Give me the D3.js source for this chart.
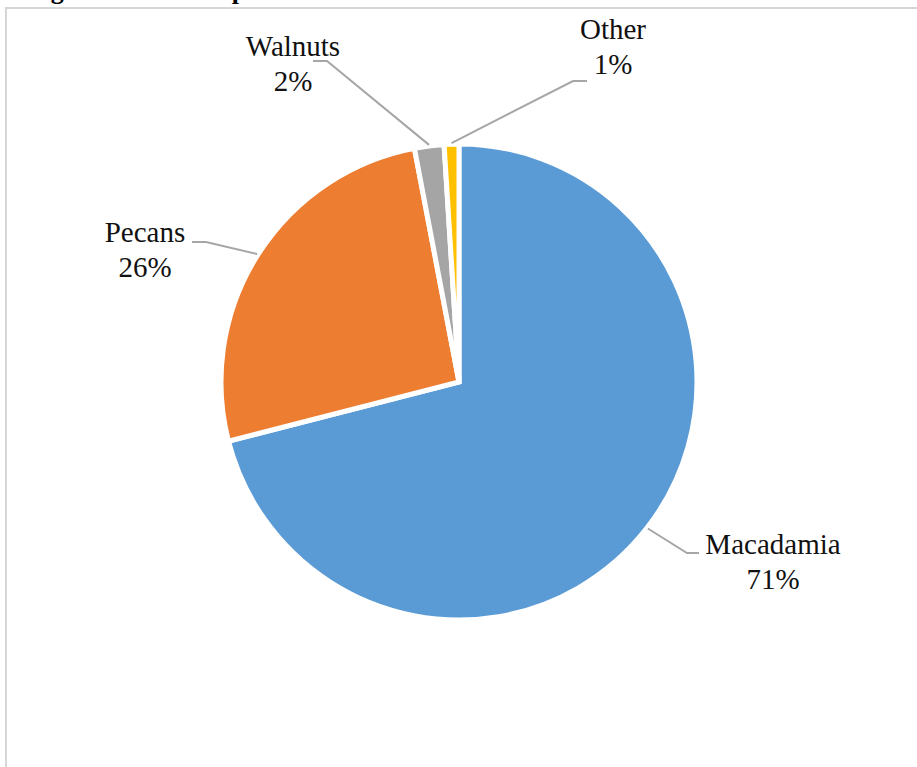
<!DOCTYPE html>
<html>
<head>
<meta charset="utf-8">
<script src="https://cdn.jsdelivr.net/npm/d3@7"></script>
<style>
  html, body { margin: 0; padding: 0; background: #fff; }
  svg { display: block; }
</style>
</head>
<body>
<svg id="chart" width="917" height="767"></svg>
<script>
// Nut crops by share of planted area
const categories = ["Macadamia", "Pecans", "Walnuts", "Other"];
const shares = [71, 26, 2, 1];
const sliceColors = ["#5b9bd5", "#ed7d31", "#a5a5a5", "#ffc000"];

const W = 917, H = 767;
const svg = d3.select("#chart");
const font = "'Liberation Serif', 'Times New Roman', serif";

// Caption sitting above the chart frame (its top runs past the page edge)
svg.append("text")
  .attr("x", 22).attr("y", -1)
  .attr("font-family", font).attr("font-weight", "bold").attr("font-size", 26)
  .attr("fill", "#000")
  .attr("textLength", 700).attr("lengthAdjust", "spacing")
  .text("Figure 1: Area planted to nut trees in South Africa");

// Chart frame
svg.append("rect")
  .attr("x", 6).attr("y", 8).attr("width", W + 20).attr("height", H + 20)
  .attr("fill", "#fff").attr("stroke", "#d6d6d6").attr("stroke-width", 2);

const cx = 459, cy = 382, R = 238;
const data = categories.map((c, i) => ({ name: c, value: shares[i], color: sliceColors[i] }));

const pie = d3.pie().value(d => d.value).sort(null);
const arcs = pie(data);
const arc = d3.arc().innerRadius(0).outerRadius(R);

const g = svg.append("g").attr("transform", `translate(${cx},${cy})`);
g.selectAll("path.slice")
  .data(arcs)
  .join("path")
  .attr("class", "slice")
  .attr("d", arc)
  .attr("fill", d => d.data.color)
  .attr("stroke", "#fff")
  .attr("stroke-width", 5)
  .attr("stroke-linejoin", "miter");

// Label placement: text centre and the elbow of each leader line
const labelLayout = {
  "Macadamia": { tx: 773, ty: 545, elbow: [[699, 553], [687, 553]] },
  "Pecans":    { tx: 145, ty: 233, elbow: [[192, 242], [206, 242]] },
  "Walnuts":   { tx: 293, ty: 47,  elbow: [[313, 61],  [327, 61]] },
  "Other":     { tx: 613, ty: 30,  elbow: [[587, 81],  [573, 81]] }
};

// Leader lines meet each slice at the middle of its outer arc
const anchorFor = (d) => {
  const a = (d.startAngle + d.endAngle) / 2;
  const r = R + 1;
  return [cx + r * Math.sin(a), cy - r * Math.cos(a)];
};

const labels = svg.append("g");
arcs.forEach(d => {
  const L = labelLayout[d.data.name];
  const pts = [L.elbow[0], L.elbow[1], anchorFor(d)];
  labels.append("path")
    .attr("d", d3.line()(pts))
    .attr("fill", "none")
    .attr("stroke", "#a6a6a6")
    .attr("stroke-width", 2);

  const t = labels.append("text")
    .attr("font-family", font).attr("font-size", 29)
    .attr("fill", "#111").attr("text-anchor", "middle");
  t.append("tspan").attr("x", L.tx).attr("y", L.ty + 9).text(d.data.name);
  t.append("tspan").attr("x", L.tx).attr("y", L.ty + 44).text(d.data.value + "%");
});
</script>
</body>
</html>
